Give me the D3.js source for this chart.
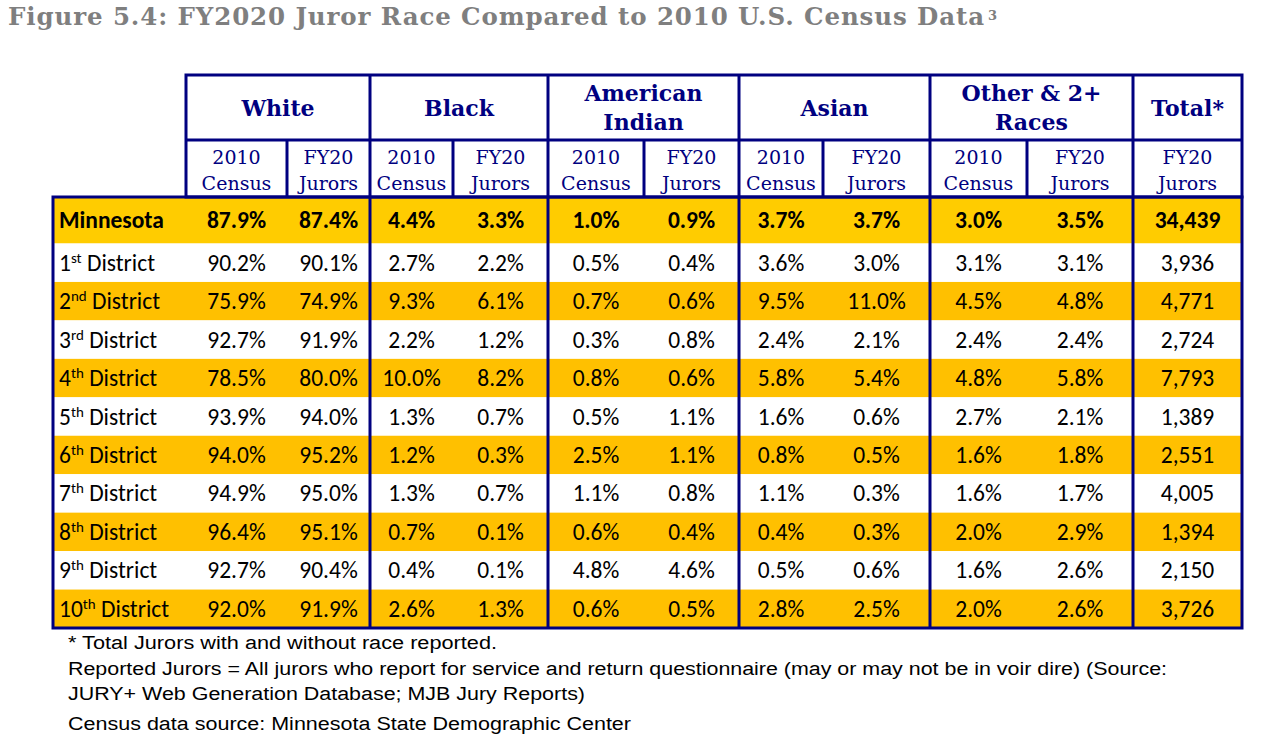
<!DOCTYPE html>
<html><head><meta charset="utf-8">
<script src="https://cdn.jsdelivr.net/npm/d3@7"></script>
<style>body{margin:0;background:#fff}svg{display:block}</style>
</head><body><svg id="c" width="1276" height="750"></svg>
<script>
const titleText = "Figure 5.4: FY2020 Juror Race Compared to 2010 U.S. Census Data";
const groups = [["White"],["Black"],["American","Indian"],["Asian"],["Other & 2+","Races"],["Total*"]];
const subHeaders = [["2010","Census"],["FY20","Jurors"]];
const districts = ["Minnesota","1st District","2nd District","3rd District","4th District","5th District","6th District","7th District","8th District","9th District","10th District"];
const white2010 = [87.9,90.2,75.9,92.7,78.5,93.9,94.0,94.9,96.4,92.7,92.0];
const whiteFY20 = [87.4,90.1,74.9,91.9,80.0,94.0,95.2,95.0,95.1,90.4,91.9];
const black2010 = [4.4,2.7,9.3,2.2,10.0,1.3,1.2,1.3,0.7,0.4,2.6];
const blackFY20 = [3.3,2.2,6.1,1.2,8.2,0.7,0.3,0.7,0.1,0.1,1.3];
const amInd2010 = [1.0,0.5,0.7,0.3,0.8,0.5,2.5,1.1,0.6,4.8,0.6];
const amIndFY20 = [0.9,0.4,0.6,0.8,0.6,1.1,1.1,0.8,0.4,4.6,0.5];
const asian2010 = [3.7,3.6,9.5,2.4,5.8,1.6,0.8,1.1,0.4,0.5,2.8];
const asianFY20 = [3.7,3.0,11.0,2.1,5.4,0.6,0.5,0.3,0.3,0.6,2.5];
const other2010 = [3.0,3.1,4.5,2.4,4.8,2.7,1.6,1.6,2.0,1.6,2.0];
const otherFY20 = [3.5,3.1,4.8,2.4,5.8,2.1,1.8,1.7,2.9,2.6,2.6];
const totalJurors = [34439,3936,4771,2724,7793,1389,2551,4005,1394,2150,3726];
const footnotes = [
 "* Total Jurors with and without race reported.",
 "Reported Jurors = All jurors who report for service and return questionnaire (may or may not be in voir dire) (Source:",
 "JURY+ Web Generation Database; MJB Jury Reports)",
 "Census data source: Minnesota State Demographic Center"];

const NAVY="#000080", Y1="#FFCC00", Y2="#FFC000";
const svg = d3.select("#c");
const pct = d3.format(".1f"), cnt = d3.format(",");
const cols = [white2010,whiteFY20,black2010,blackFY20,amInd2010,amIndFY20,asian2010,asianFY20,other2010,otherFY20];

// layout
const xL=53, xR=1242;
const gEdges=[186,370,548,739,930,1133,1242];
const subMid=[287,453,644,823,1027];
const colEdges=[186,287,370,453,548,644,739,823,930,1027,1133,1242];
const hTop=75, hMid=140, bTop=197, bBot=628;
const firstH=46.5;
const rowY = d3.scaleLinear().domain([1,districts.length]).range([bTop+firstH,bBot]);
const yTop = i=> i===0?bTop:rowY(i);
const yBot = i=> i===0?bTop+firstH:rowY(i+1);

// title
const t = svg.append("text").attr("x",8).attr("y",25)
 .attr("font-family","'DejaVu Serif',serif").attr("font-weight","bold")
 .attr("font-size",24.5).attr("fill","#7f7f7f");
const tMain = t.append("tspan").text(titleText);
const w0 = tMain.node().getComputedTextLength();
tMain.attr("letter-spacing",(977-w0)/titleText.length);
t.append("tspan").attr("font-size",13).attr("dy",-5).attr("dx",3).text("3");

// row backgrounds
svg.selectAll("rect.row").data(districts).join("rect")
 .attr("x",xL).attr("width",xR-xL)
 .attr("y",(d,i)=>yTop(i)).attr("height",(d,i)=>yBot(i)-yTop(i))
 .attr("fill",(d,i)=> i===0?Y1:(i%2===0?Y2:"#fff"));

// header texts
const hg = svg.append("g").attr("font-family","'DejaVu Serif',serif").attr("fill",NAVY);
groups.forEach((g,k)=>{
  const cx=(gEdges[k]+gEdges[k+1])/2, cy=(hTop+hMid)/2;
  const tx=hg.append("text").attr("x",cx).attr("text-anchor","middle").attr("font-weight","bold").attr("font-size",22);
  g.forEach((line,j)=>tx.append("tspan").attr("x",cx).attr("y",cy+8+(j-(g.length-1)/2)*29).text(line));
});
for(let c=0;c<11;c++){
  const cx=(colEdges[c]+colEdges[c+1])/2;
  const sh = c===10?subHeaders[1]:subHeaders[c%2];
  const tx=hg.append("text").attr("text-anchor","middle").attr("font-size",19);
  sh.forEach((line,j)=>tx.append("tspan").attr("x",cx).attr("y",164+j*26).text(line));
}

// body texts
const bg = svg.append("g").attr("font-family","Carlito,Lato,sans-serif").attr("fill","#000").attr("font-size",23.5);
districts.forEach((d,i)=>{
  const cy=(yTop(i)+yBot(i))/2+8;
  const w = i===0?"bold":"normal";
  const lab=bg.append("text").attr("x",59).attr("y",cy).attr("font-weight",w);
  const m=d.match(/^(\d+)(st|nd|rd|th) (.*)$/);
  if(m){lab.append("tspan").text(m[1]);lab.append("tspan").attr("font-size",15).attr("dy",-8).text(m[2]);lab.append("tspan").attr("dy",8).text(" "+m[3]);}
  else lab.text(d);
  cols.forEach((arr,c)=>{
    bg.append("text").attr("x",(colEdges[c]+colEdges[c+1])/2).attr("y",cy).attr("text-anchor","middle").attr("font-weight",w).text(pct(arr[i])+"%");
  });
  bg.append("text").attr("x",(colEdges[10]+colEdges[11])/2).attr("y",cy).attr("text-anchor","middle").attr("font-weight",w).text(cnt(totalJurors[i]));
});

// lines
const ln = svg.append("g").attr("stroke",NAVY).attr("stroke-width",3).attr("fill","none");
ln.append("rect").attr("x",gEdges[0]).attr("y",hTop).attr("width",xR-gEdges[0]).attr("height",bTop-hTop);
ln.append("line").attr("x1",gEdges[0]).attr("x2",xR).attr("y1",hMid).attr("y2",hMid);
gEdges.slice(1,-1).forEach(x=>ln.append("line").attr("x1",x).attr("x2",x).attr("y1",hTop).attr("y2",bBot));
subMid.forEach(x=>ln.append("line").attr("x1",x).attr("x2",x).attr("y1",hMid).attr("y2",bTop));
ln.append("rect").attr("x",xL).attr("y",bTop).attr("width",xR-xL).attr("height",bBot-bTop);

// footnotes
const fg = svg.append("g").attr("font-family","'Liberation Sans',Arial,sans-serif").attr("font-size",18).attr("fill","#000");
const fy=[649,675,700,730];
const fW=[429,1099,517,563];
footnotes.forEach((f,i)=>{
  fg.append("text").attr("x",68).attr("y",fy[i]).text(f)
    .attr("textLength",fW[i]).attr("lengthAdjust","spacingAndGlyphs");
});
</script></body></html>
